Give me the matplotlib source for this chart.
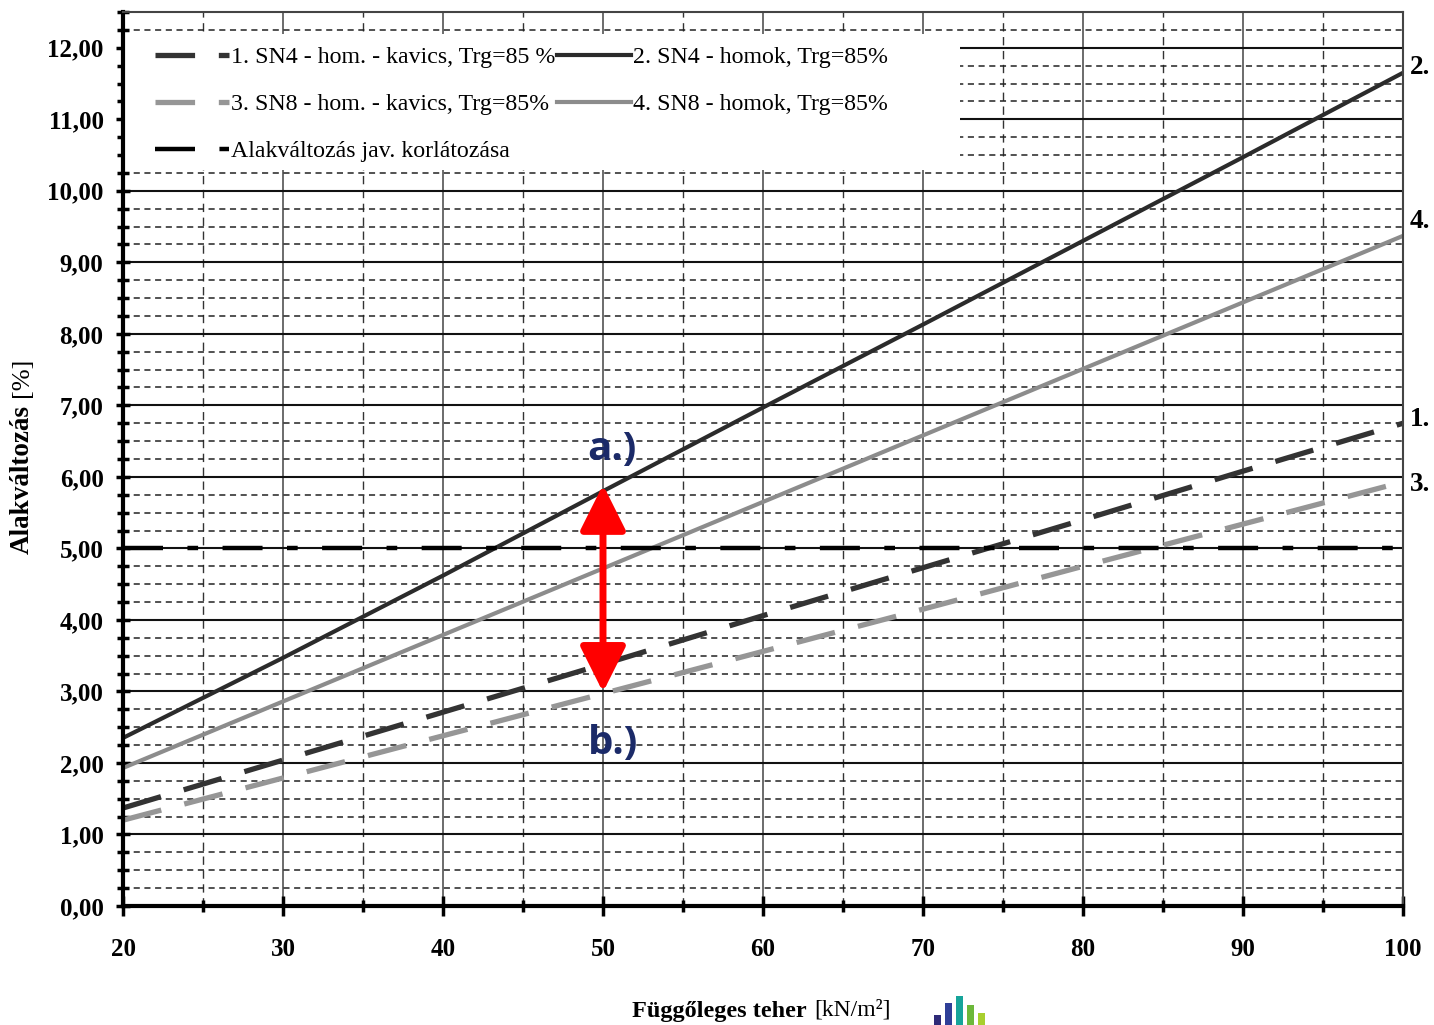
import matplotlib
matplotlib.use("Agg")
import matplotlib.pyplot as plt
from matplotlib.ticker import MultipleLocator, FuncFormatter
from matplotlib.patches import FancyArrowPatch, Rectangle

# terhelés [kN/m2]
load = [20, 30, 40, 50, 60, 70, 80, 90, 100]
# alakváltozás [%]
sn4_kavics = [1.37, 2.04, 2.71, 3.38, 4.06, 4.73, 5.40, 6.08, 6.75]
sn4_homok = [2.35, 3.47, 4.62, 5.80, 6.97, 8.13, 9.30, 10.47, 11.65]
sn8_kavics = [1.20, 1.79, 2.38, 2.97, 3.56, 4.15, 4.75, 5.34, 5.93]
sn8_homok = [1.93, 2.86, 3.79, 4.72, 5.65, 6.58, 7.51, 8.44, 9.37]
limit = 5.0

labels = ["1. SN4 - hom. - kavics, Trg=85 %", "2. SN4 - homok, Trg=85%",
          "3. SN8 - hom. - kavics, Trg=85%", "4. SN8 - homok, Trg=85%",
          "Alakváltozás jav. korlátozása"]
end_tags = ["1.", "2.", "3.", "4."]

arrow_x = 50
arrow_top = 5.89
arrow_bottom = 2.99

logo_heights = [10, 22, 29, 20, 12]
logo_colors = ["#2e2a78", "#2f3f98", "#16a49a", "#6cb83a", "#a8cf2e"]

serif = ["Liberation Serif", "DejaVu Serif"]

fig = plt.figure(figsize=(14.34, 10.25), dpi=100)
ax = fig.add_axes([123 / 1434, 1 - 906 / 1025, 1280 / 1434, 894 / 1025])

# grid
ax.set_xlim(20, 100)
ax.set_ylim(0, 12.5)
ax.xaxis.set_major_locator(MultipleLocator(10))
ax.xaxis.set_minor_locator(MultipleLocator(5))
ax.yaxis.set_major_locator(MultipleLocator(1))
ax.yaxis.set_minor_locator(MultipleLocator(0.25))
ax.grid(which="major", axis="y", color="#111111", lw=1.5, ls="-")
ax.grid(which="minor", axis="y", color="#222222", lw=1.1, ls=(0, (4, 3)))
ax.grid(which="major", axis="x", color="#444444", lw=1.1, ls="-")
ax.grid(which="minor", axis="x", color="#333333", lw=1.0, ls=(0, (6, 4)))
ax.set_axisbelow(True)

# white box behind the legend (covers the grid, ~125..960 px wide)
ax.add_patch(Rectangle((2 / 1280, (906 - 170) / 894), 835 / 1280, 136 / 894,
                       transform=ax.transAxes, facecolor="white",
                       edgecolor="none", zorder=1.5))

# series
l1, = ax.plot(load, sn4_kavics, color="#333333", lw=3.8, dashes=(7.5, 4.5),
              dash_capstyle="butt")
l2, = ax.plot(load, sn4_homok, color="#2b2b2b", lw=3.0)
l3, = ax.plot(load, sn8_kavics, color="#969696", lw=3.8, dashes=(7.5, 4.5),
              dash_capstyle="butt")
l4, = ax.plot(load, sn8_homok, color="#8c8c8c", lw=3.0)
l5 = ax.axhline(limit, color="black", lw=3.2, dashes=(9, 5.5, 2.4, 5.5),
                dash_capstyle="butt")

leg = ax.legend([l1, l3, l5, l2, l4],
                [labels[0], labels[2], labels[4], labels[1], labels[3]],
                ncol=2, loc="upper left", bbox_to_anchor=(0.02, 0.968),
                borderaxespad=0, frameon=False,
                prop={"family": serif, "size": 17.2},
                handlelength=3.1, handletextpad=0.1, columnspacing=0.05,
                labelspacing=1.05, borderpad=0.25)

# end tags
ends = [sn4_kavics[-1], sn4_homok[-1], sn8_kavics[-1], sn8_homok[-1]]
tag_offsets = [0.05, 0.07, -0.03, 0.2]
for tag, yv, off in zip(end_tags, ends, tag_offsets):
    ax.annotate(tag, xy=(load[-1], yv + off), xytext=(5, 0),
                textcoords="offset points", ha="left", va="center",
                fontsize=19.5, fontweight="bold", family=serif,
                annotation_clip=False)

# red arrow
arr = FancyArrowPatch((arrow_x, arrow_top), (arrow_x, arrow_bottom),
                      arrowstyle="<|-|>,head_length=28,head_width=14",
                      mutation_scale=1, color="#ff0000", lw=5,
                      shrinkA=0, shrinkB=0, zorder=5)
ax.add_patch(arr)
ax.text(arrow_x + 0.55, 6.38, "a.)", ha="center", va="center", fontsize=29,
        fontweight="bold", color="#1b2a68", family=["Open Sans", "DejaVu Sans"], zorder=6)
ax.text(arrow_x + 0.6, 2.27, "b.)", ha="center", va="center", fontsize=29,
        fontweight="bold", color="#1b2a68", family=["Open Sans", "DejaVu Sans"], zorder=6)

# spines and ticks
ax.spines["left"].set_linewidth(3)
ax.spines["bottom"].set_linewidth(3)
ax.spines["right"].set_linewidth(1.5)
ax.spines["right"].set_color("#444444")
ax.spines["top"].set_linewidth(1.5)
ax.spines["top"].set_color("#444444")
ax.tick_params(axis="y", which="major", direction="inout", length=10, width=2.5,
               pad=9)
ax.tick_params(axis="y", which="minor", direction="inout", length=8, width=2.5)
ax.tick_params(axis="x", which="major", direction="inout", length=14, width=2.5,
               pad=16)
ax.tick_params(axis="x", which="minor", direction="inout", length=9, width=2.5)
ax.yaxis.set_major_formatter(FuncFormatter(lambda v, p: f"{v:.2f}".replace(".", ",")))
for lab in ax.get_xticklabels() + ax.get_yticklabels():
    lab.set_family(serif)
    lab.set_fontweight("bold")
    lab.set_fontsize(18)

# axis titles
fig.text(22 / 1434, 1 - 479 / 1025, "Alakváltozás", rotation=90, ha="center",
         va="center", fontsize=19.5, fontweight="bold", family=serif)
fig.text(22 / 1434, 1 - 377 / 1025, "[%]", rotation=90, ha="center",
         va="center", fontsize=19, family=serif)
fig.text(632 / 1434, 1 - 1012 / 1025, "Függőleges teher", ha="left",
         va="center", fontsize=17.5, fontweight="bold", family=serif)
fig.text(814 / 1434, 1 - 1010 / 1025, "[kN/m²]", ha="left",
         va="center", fontsize=17, family=serif)

# small logo
lax = fig.add_axes([932 / 1434, 0, 55 / 1434, 30 / 1025])
lax.bar(range(len(logo_heights)), logo_heights, color=logo_colors, width=0.55)
lax.set_xlim(-0.5, len(logo_heights) - 0.5)
lax.set_ylim(0, 30)
lax.axis("off")

fig.savefig("out.png", dpi=100)
